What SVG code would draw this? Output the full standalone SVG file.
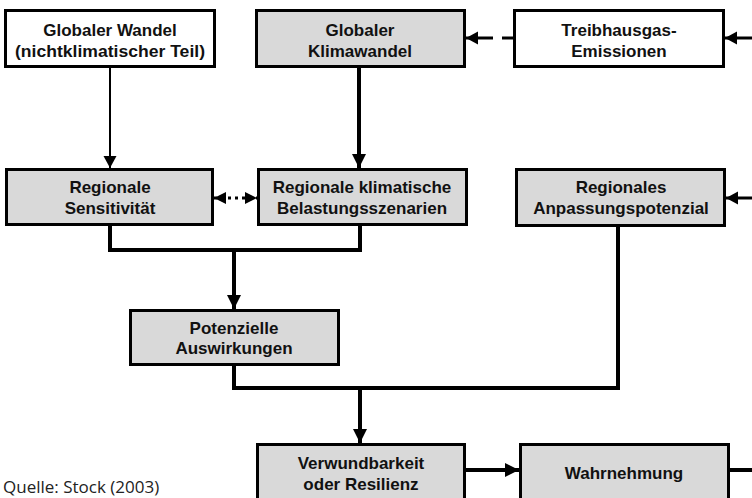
<svg xmlns="http://www.w3.org/2000/svg" width="752" height="498" viewBox="0 0 752 498">
<defs>
<style>
.box{stroke:#000;stroke-width:3}
.w{fill:#fff}
.g{fill:#d9d9d9}
.t{font-family:"Liberation Sans",Arial,sans-serif;font-weight:bold;font-size:17px;text-anchor:middle;fill:#111}
.thin{stroke:#000;stroke-width:2;fill:none}
.thick{stroke:#000;stroke-width:4;fill:none}
.med{stroke:#000;stroke-width:3;fill:none}
.src{font-family:"Open Sans","Lato",sans-serif;font-size:17px;fill:#222}
</style>
<marker id="ah" markerUnits="userSpaceOnUse" markerWidth="20" markerHeight="20" viewBox="0 0 20 20" refX="16" refY="10" orient="auto">
<path d="M2,3 L16,10 L2,17 Z" fill="#000"/>
</marker>
<marker id="ahs" markerUnits="userSpaceOnUse" markerWidth="16" markerHeight="16" viewBox="0 0 16 16" refX="13" refY="8" orient="auto">
<path d="M1,1.5 L13,8 L1,14.5 Z" fill="#000"/>
</marker>
<marker id="ahd" markerUnits="userSpaceOnUse" markerWidth="16" markerHeight="16" viewBox="0 0 16 16" refX="13" refY="8" orient="auto-start-reverse">
<path d="M1,2 L13,8 L1,14 Z" fill="#000"/>
</marker>
</defs>
<rect width="752" height="498" fill="#fff"/>

<g id="connectors">
<line class="thin" x1="110" y1="67" x2="110" y2="168" marker-end="url(#ahs)"/>
<line class="thick" x1="359" y1="67" x2="359" y2="168" marker-end="url(#ah)"/>
<line class="med" x1="514" y1="38" x2="502" y2="38"/>
<line class="med" x1="493" y1="38" x2="466" y2="38" marker-end="url(#ahs)"/>
<line class="med" x1="752" y1="38" x2="725" y2="38" marker-end="url(#ahs)"/>
<line class="med" x1="752" y1="198" x2="726" y2="198" marker-end="url(#ahs)"/>
<line x1="214" y1="198" x2="257" y2="198" stroke="#000" stroke-width="3" stroke-dasharray="3,4" marker-start="url(#ahd)" marker-end="url(#ahd)"/>
<path class="thick" d="M110,225 V250 H360 V225"/>
<line class="thick" x1="234" y1="250" x2="234" y2="309" marker-end="url(#ah)"/>
<path class="thick" d="M234,365 V388 H618 V226"/>
<line class="thick" x1="360" y1="388" x2="360" y2="443" marker-end="url(#ah)"/>
<line class="thick" x1="465" y1="470" x2="519" y2="470" marker-end="url(#ah)"/>
<line class="thick" x1="729" y1="470" x2="752" y2="470"/>
</g>

<g id="n_globaler_wandel">
<rect class="box w" x="5.5" y="10.5" width="209" height="56"/>
<text class="t" x="110" y="36">Globaler Wandel</text>
<text class="t" x="110" y="57" textLength="190" lengthAdjust="spacingAndGlyphs">(nichtklimatischer Teil)</text>
</g>
<g id="n_klimawandel">
<rect class="box g" x="256.5" y="10.5" width="208" height="56"/>
<text class="t" x="360" y="36">Globaler</text>
<text class="t" x="360" y="57">Klimawandel</text>
</g>
<g id="n_treibhausgas">
<rect class="box w" x="514.5" y="10.5" width="209" height="56"/>
<text class="t" x="619" y="36">Treibhausgas-</text>
<text class="t" x="619" y="57">Emissionen</text>
</g>
<g id="n_sensitivitaet">
<rect class="box g" x="6.5" y="169.5" width="206" height="55"/>
<text class="t" x="110" y="193">Regionale</text>
<text class="t" x="110" y="214">Sensitivität</text>
</g>
<g id="n_belastung">
<rect class="box g" x="258.5" y="169.5" width="208" height="55"/>
<text class="t" x="362" y="193">Regionale klimatische</text>
<text class="t" x="362" y="214">Belastungsszenarien</text>
</g>
<g id="n_anpassung">
<rect class="box g" x="516.5" y="169.5" width="208" height="56"/>
<text class="t" x="621" y="193">Regionales</text>
<text class="t" x="621" y="214">Anpassungspotenzial</text>
</g>
<g id="n_auswirkungen">
<rect class="box g" x="130.5" y="310.5" width="208" height="54"/>
<text class="t" x="234" y="334">Potenzielle</text>
<text class="t" x="234" y="354">Auswirkungen</text>
</g>
<g id="n_verwundbarkeit">
<rect class="box g" x="257.5" y="444.5" width="207" height="70"/>
<text class="t" x="361" y="469">Verwundbarkeit</text>
<text class="t" x="361" y="490">oder Resilienz</text>
</g>
<g id="n_wahrnehmung">
<rect class="box g" x="520.5" y="444.5" width="208" height="70"/>
<text class="t" x="624" y="479">Wahrnehmung</text>
</g>
<text class="src" x="3" y="493">Quelle: Stock (2003)</text>
</svg>
